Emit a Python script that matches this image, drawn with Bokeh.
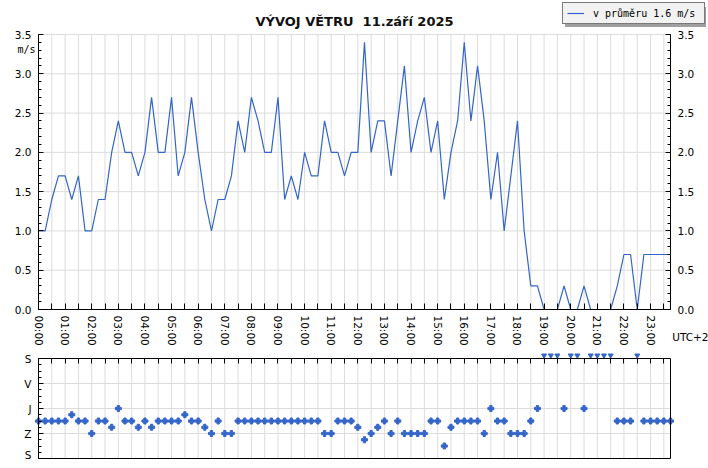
import numpy as np
from bokeh.plotting import figure
from bokeh.layouts import column
from bokeh.models import Range1d, FixedTicker, LinearAxis, Legend, LegendItem, Label
from bokeh.embed import file_html
from bokeh.resources import INLINE

# ---------------- data ----------------
TITLE = "VÝVOJ VĚTRU\u00a0 11.září 2025"
TZ_LABEL = "UTC+2"
UNIT = "m/s"
STEP_H = 0.25  # one sample every 15 minutes

SPEED = [1.0, 1.0, 1.4, 1.7, 1.7, 1.4, 1.7, 1.0, 1.0, 1.4, 1.4, 2.0,
         2.4, 2.0, 2.0, 1.7, 2.0, 2.7, 2.0, 2.0, 2.7, 1.7, 2.0, 2.7,
         2.0, 1.4, 1.0, 1.4, 1.4, 1.7, 2.4, 2.0, 2.7, 2.4, 2.0, 2.0,
         2.7, 1.4, 1.7, 1.4, 2.0, 1.7, 1.7, 2.4, 2.0, 2.0, 1.7, 2.0,
         2.0, 3.4, 2.0, 2.4, 2.4, 1.7, 2.4, 3.1, 2.0, 2.4, 2.7, 2.0,
         2.4, 1.4, 2.0, 2.4, 3.4, 2.4, 3.1, 2.4, 1.4, 2.0, 1.0, 1.7,
         2.4, 1.0, 0.3, 0.3, 0.0, 0.0, 0.0, 0.3, 0.0, 0.0, 0.3, 0.0,
         0.0, 0.0, 0.0, 0.3, 0.7, 0.7, 0.0, 0.7, 0.7, 0.7, 0.7, 0.7]

# wind direction in degrees (0 = S/sever, 90 = V, 180 = J, 270 = Z); None = calm
DIRECTION = [225, 225, 225, 225, 225, 202.5, 225, 225, 270, 225, 225, 247.5,
             180, 225, 225, 247.5, 225, 247.5, 225, 225, 225, 225, 202.5, 225,
             225, 247.5, 270, 225, 270, 270, 225, 225, 225, 225, 225, 225,
             225, 225, 225, 225, 225, 225, 225, 270, 270, 225, 225, 225,
             247.5, 292.5, 270, 247.5, 225, 270, 225, 270, 270, 270, 270, 225,
             225, 315, 247.5, 225, 225, 225, 225, 270, 180, 225, 225, 270,
             270, 270, 225, 180, None, None, None, 180, None, None, 180, None,
             None, None, None, 225, 225, 225, None, 225, 225, 225, 225, 225]

HOUR_TICKS = list(range(24))
HOUR_LABELS = ["%02d:00" % h for h in HOUR_TICKS]
HALF_HOUR_TICKS = [h + 0.5 for h in HOUR_TICKS]

Y_MAX = 3.5
Y_TICKS = [0.0, 0.5, 1.0, 1.5, 2.0, 2.5, 3.0, 3.5]
Y_TICK_LABELS = ["0.0", "0.5", "1.0", "1.5", "2.0", "2.5", "3.0", "3.5"]
Y_MINOR = [round(0.1 * k, 1) for k in range(36)]

DIR_TICKS = [0, 90, 180, 270, 360]
DIR_LABELS = ["S", "V", "J", "Z", "S"]
DIR_MINOR = [22.5 * k for k in range(17)]
DIR_GRID = [90, 180, 270]

# ---------------- layout / style ----------------
W = 708
H_TOP = 350
H_BOT = 110
X0_PX, X1_PX = 38, 670          # plot box left / right (px)
Y_TOP_PX, Y0_PX = 34, 309       # speed box top (3.5) / bottom (0.0)
D0_PX, D1_PX = 8, 108           # direction box top / bottom inside lower figure

FONT = "DejaVu Sans"
MONO = "DejaVu Sans Mono"
BLUE = "#3465c8"
GRID = "#dcdcdc"
TICK_FS = "10.5px"
CALM_Y = -11          # row of calm markers, just above the direction box

t = np.arange(len(SPEED)) * STEP_H
speed = np.array(SPEED, dtype=float)
x_end = float(t[-1])

kx = (X1_PX - X0_PX) / x_end
ky = (Y0_PX - Y_TOP_PX) / Y_MAX
kd = (D1_PX - D0_PX) / 360.0

x_range = Range1d(-X0_PX / kx, x_end + (W - X1_PX) / kx)
y_range = Range1d(-(H_TOP - Y0_PX) / ky, Y_MAX + Y_TOP_PX / ky)
d_range = Range1d(360 + (H_BOT - D1_PX) / kd, -D0_PX / kd)


def axis(side_fig, side, ticker, fixed, bounds, tick_in=0, minor_in=0,
         overrides=None, standoff=7, labels=True, orientation="horizontal"):
    ax = LinearAxis(ticker=ticker, fixed_location=fixed, bounds=bounds)
    ax.axis_line_color = "black"
    ax.axis_line_width = 1
    ax.major_tick_in = tick_in
    ax.major_tick_out = 0
    ax.minor_tick_in = minor_in
    ax.minor_tick_out = 0
    ax.major_tick_line_color = "black"
    ax.minor_tick_line_color = "black"
    ax.major_label_standoff = standoff
    ax.major_label_text_font = FONT
    ax.major_label_text_font_size = TICK_FS
    ax.major_label_text_color = "black"
    ax.major_label_orientation = orientation
    if overrides:
        ax.major_label_overrides = overrides
    if not labels:
        ax.major_label_text_alpha = 0
        ax.major_label_text_font_size = "1px"
        ax.major_label_standoff = 0
    side_fig.add_layout(ax, side)
    return ax


# ---------------- top: speed ----------------
p = figure(width=W, height=H_TOP, x_range=x_range, y_range=y_range,
           output_backend="svg", toolbar_location=None,
           x_axis_location=None, y_axis_location=None,
           min_border_left=0, min_border_right=0, min_border_top=0, min_border_bottom=0)
p.outline_line_color = None
p.background_fill_color = "white"
p.xgrid.visible = False
p.ygrid.visible = False

xticker = FixedTicker(ticks=HOUR_TICKS, minor_ticks=HALF_HOUR_TICKS)
yticker = FixedTicker(ticks=Y_TICKS, minor_ticks=Y_MINOR)
y_over = {v: lab for v, lab in zip(Y_TICKS, Y_TICK_LABELS)}

# grid
vgrid = sorted(HOUR_TICKS[1:] + HALF_HOUR_TICKS)
p.segment(x0=vgrid, y0=0, x1=vgrid, y1=Y_MAX, line_color=GRID, line_width=1)
hgrid = Y_TICKS[1:]
p.segment(x0=0, y0=hgrid, x1=x_end, y1=hgrid, line_color=GRID, line_width=1)

r_speed = p.line(t, speed, line_color=BLUE, line_width=1.2)

axis(p, "below", xticker, 0, (0, x_end), 6, 6,
     overrides={h: lab for h, lab in zip(HOUR_TICKS, HOUR_LABELS)},
     standoff=6, orientation="vertical")
axis(p, "left", yticker, 0, (0, Y_MAX), 5, 3, overrides=y_over)
axis(p, "right", yticker, x_end, (0, Y_MAX), 5, 3, overrides=y_over)

# legend (with shadow)
legend_text = "v průměru %.1f m/s" % float(np.mean(speed))
r_none = p.line(t, speed, line_alpha=0)
LEG_LEFT, LEG_TOP, LEG_H = 562, 4, 20
common = dict(margin=0, padding=4, spacing=0, glyph_width=17, glyph_height=12,
              label_standoff=9, label_width=107, label_height=12,
              label_text_font=MONO, label_text_font_size="10px")
shadow = Legend(items=[LegendItem(label=" ", renderers=[r_none])],
                location=(LEG_LEFT + 3, H_TOP - LEG_TOP - LEG_H - 3),
                label_text_alpha=0, border_line_alpha=0,
                background_fill_color="#a0a0a0", background_fill_alpha=1, **common)
legend = Legend(items=[LegendItem(label=legend_text, renderers=[r_speed])],
                location=(LEG_LEFT, H_TOP - LEG_TOP - LEG_H),
                label_text_color="black", border_line_color="black", border_line_width=1,
                background_fill_color="#f2f2f2", background_fill_alpha=1, **common)
p.add_layout(shadow)
p.add_layout(legend)

p.add_layout(Label(x=x_end / 2, y=Y_MAX + 13.3 / ky, text=TITLE, text_font=FONT,
                   text_font_size="13px", text_font_style="bold", text_color="#111111",
                   text_align="center", text_baseline="alphabetic"))
p.add_layout(Label(x=-3 / kx, y=Y_MAX - 15.3 / ky, text=UNIT, text_font=MONO,
                   text_font_size="10px", text_color="black",
                   text_align="right", text_baseline="middle"))
p.add_layout(Label(x=x_end + 1.7 / kx, y=-27 / ky, text=TZ_LABEL, text_font=FONT,
                   text_font_size=TICK_FS, text_color="black",
                   text_align="left", text_baseline="middle"))

# ---------------- bottom: direction ----------------
q = figure(width=W, height=H_BOT, x_range=x_range, y_range=d_range,
           output_backend="svg", toolbar_location=None,
           x_axis_location=None, y_axis_location=None,
           min_border_left=0, min_border_right=0, min_border_top=0, min_border_bottom=0)
q.outline_line_color = None
q.background_fill_color = "white"
q.xgrid.visible = False
q.ygrid.visible = False

q.segment(x0=vgrid, y0=0, x1=vgrid, y1=360, line_color=GRID, line_width=1)
q.segment(x0=0, y0=DIR_GRID, x1=x_end, y1=DIR_GRID, line_color=GRID, line_width=1)

d_x = [ti for ti, d in zip(t, DIRECTION) if d is not None]
d_y = [d for d in DIRECTION if d is not None]
c_x = [ti for ti, d in zip(t, DIRECTION) if d is None]
q.scatter(d_x, d_y, marker="plus", size=6, color=BLUE)
q.scatter(c_x, [CALM_Y] * len(c_x), marker="inverted_triangle", size=5, color=BLUE)

axis(q, "left", FixedTicker(ticks=DIR_TICKS, minor_ticks=DIR_MINOR), 0, (0, 360), 5, 3,
     overrides={v: lab for v, lab in zip(DIR_TICKS, DIR_LABELS)})
axis(q, "right", FixedTicker(ticks=[]), x_end, (0, 360), labels=False)
axis(q, "above", FixedTicker(ticks=sorted(HOUR_TICKS + HALF_HOUR_TICKS)), 0, (0, x_end),
     5, 0, labels=False)
axis(q, "below", FixedTicker(ticks=[]), 360, (0, x_end), labels=False)

layout = column(p, q, spacing=0)
open("out.html", "w").write(file_html(layout, INLINE))
